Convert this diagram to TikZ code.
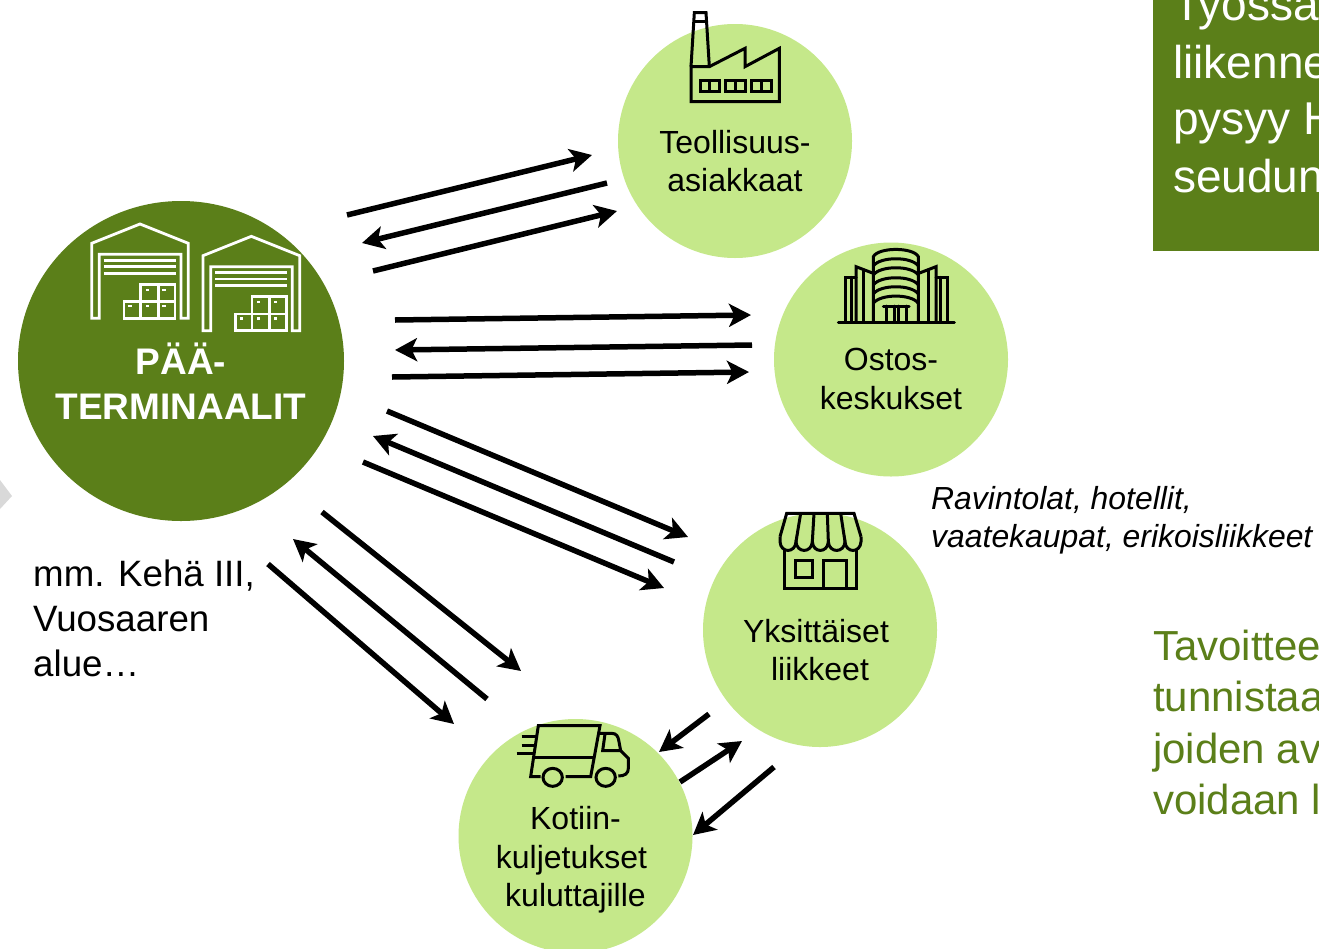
\documentclass[tikz,border=0pt]{standalone}
\usepackage{fontspec}
\setmainfont{Liberation Sans}
\usetikzlibrary{arrows.meta,shapes.geometric}
\definecolor{darkgreen}{HTML}{5B7F19}
\definecolor{lightgreen}{HTML}{C5E88A}
\definecolor{palegray}{HTML}{D9D9D9}
\newcommand{\warehouseicon}{%
    \draw[whiteicon] (275,355)--(275,130)--(420,72)--(565,130)--(565,355)--(543,355)--(543,163)--(298,163)--(298,355)--cycle;
    \foreach \yy in {181,200,220} \draw[whiteicon] (312,\yy)--(528,\yy);
    \draw[whiteicon] (372,305) rectangle (422,355);
    \draw[whiteicon] (422,305) rectangle (475,355);
    \draw[whiteicon] (475,305) rectangle (525,355);
    \draw[whiteicon] (422,253) rectangle (475,305);
    \draw[whiteicon] (475,253) rectangle (525,305);
    \foreach \xx/\yy in {385/315,437/315,487/315,437/266,487/266}
      \fill[white] (\xx,\yy) rectangle ++(10,7);
}
\tikzset{
  darkcircle/.style={ellipse,fill=darkgreen,inner sep=0pt,minimum width=326pt,minimum height=320pt},
  lightcircle/.style={circle,fill=lightgreen,inner sep=0pt,minimum size=234pt},
  flow/.style={line width=5.5pt,-{Stealth[length=22pt,width=23pt,inset=5.5pt]}},
  icon/.style={line width=3pt,line join=miter,black},
  whiteicon/.style={line width=2.8pt,white},
  label/.style={align=center,inner sep=0pt,font=\fontsize{32}{38.4}\selectfont},
  leftnote/.style={align=left,inner sep=0pt,anchor=north west,font=\fontsize{36.7}{45}\selectfont},
  italicnote/.style={align=left,inner sep=0pt,anchor=north west,font=\fontsize{31.9}{38}\selectfont\itshape},
  boxline/.style={anchor=base west,inner sep=0pt,white,font=\fontsize{46}{56}\selectfont},
  goalline/.style={anchor=base west,inner sep=0pt,text=darkgreen,font=\fontsize{42}{51}\selectfont},
}
\begin{document}
\begin{tikzpicture}[x=1pt,y=-1pt]
\clip (0,0) rectangle (1319,948);
\fill[white] (0,0) rectangle (1319,948);
% pale shape on the left edge
\fill[palegray] (0,480)--(12,496)--(0,509)--cycle;
% circles
\node[darkcircle] (term) at (181,361) {};
\node[lightcircle] (teol) at (735,141) {};
\node[lightcircle] (osto) at (891,359.5) {};
\node[lightcircle] (yksi) at (820,630) {};
\node[lightcircle] (koti) at (575.5,836) {};
% green box
\fill[darkgreen] (1153,-5) rectangle (1325,251);
\node[boxline] (b1) at (1173,20) {Työssä};
\node[boxline] (b2) at (1173,78) {liikenne};
\node[boxline] (b3) at (1173,134) {pysyy H};
\node[boxline] (b4) at (1173,192) {seudun};
% goal text
\node[goalline] (g1) at (1153,660) {Tavoittee};
\node[goalline] (g2) at (1153,711) {tunnistaa};
\node[goalline] (g3) at (1153,763) {joiden av};
\node[goalline] (g4) at (1153,814) {voidaan l};
% labels
\node[align=center,inner sep=0pt,white,font=\fontsize{37}{45}\selectfont\bfseries] (termt) at (181,381) {PÄÄ-\\TERMINAALIT};
\node[label] (teolt) at (735,161) {Teollisuus-\\asiakkaat};
\node[label] (ostot) at (891,379) {Ostos-\\keskukset};
\node[label] (yksit) at (818,650) {Yksittäiset\hspace*{4pt}\\\hspace*{4pt}liikkeet};
\node[label] (kotit) at (575.5,860) {Kotiin-\\kuljetukset\hspace*{8pt}\strut\\kuluttajille};
\node[leftnote] (mm) at (33,560) {mm. Kehä III,\\Vuosaaren\\alue…};
\node[italicnote] (rav) at (931,486) {Ravintolat, hotellit,\\vaatekaupat, erikoisliikkeet};
% arrow ends
\coordinate (a1s) at (347,215);  \coordinate (a1e) at (592,155);
\coordinate (a2s) at (607,183);  \coordinate (a2e) at (362,243);
\coordinate (a3s) at (373,271);  \coordinate (a3e) at (617,211);
\coordinate (a4s) at (395,320);  \coordinate (a4e) at (751,315);
\coordinate (a5s) at (752,345);  \coordinate (a5e) at (395,350);
\coordinate (a6s) at (392,377);  \coordinate (a6e) at (749,372);
\coordinate (a7s) at (387,411);  \coordinate (a7e) at (688,537);
\coordinate (a8s) at (674,562);  \coordinate (a8e) at (373,436);
\coordinate (a9s) at (363,462);  \coordinate (a9e) at (664,588);
\coordinate (a10s) at (322,512); \coordinate (a10e) at (521,671);
\coordinate (a11s) at (487,699); \coordinate (a11e) at (293,539);
\coordinate (a12s) at (268,564); \coordinate (a12e) at (454,724);
\coordinate (a13s) at (709,714); \coordinate (a13e) at (659,752);
\coordinate (a14s) at (680,782); \coordinate (a14e) at (742,741);
\coordinate (a15s) at (774,767); \coordinate (a15e) at (693,835);
\foreach \n in {1,...,15} \draw[flow] (a\n s) -- (a\n e);
% warehouses
\begin{scope}[shift={(0,200)},scale=1/3]
  \warehouseicon
\end{scope}
\begin{scope}[shift={(111.33,212.33)},scale=1/3]
  \warehouseicon
\end{scope}
% factory
\begin{scope}[shift={(660,0)},scale=1/3]
  \draw[icon] (93,200)--(103,38)--(138,38)--(148,200);
  \draw[icon] (100,65)--(141,65);
  \draw[icon] (93,200)--(148,200)--(255,145)--(255,200)--(358,145)--(358,305)--(93,305)--cycle;
  \foreach \xx in {120,197,275} {
    \draw[icon] (\xx,241) rectangle ++(58,34);
    \draw[icon] (\xx+29,241)--(\xx+29,275);
  }
\end{scope}
% mall
\begin{scope}[shift={(820,240)},scale=1/3,line cap=round]
  \draw[icon] (55,247)--(403,247);
  \draw[icon] (160,247)--(160,50) .. controls (175,21) and (280,21) .. (295,50)--(295,247);
  \foreach \yy in {78,105,135,162,190}
    \draw[icon] (160,\yy) .. controls (180,\yy-29) and (275,\yy-29) .. (295,\yy);
  \draw[icon] (160,100)--(108,80)--(108,247);
  \draw[icon] (130,90)--(130,247);
  \draw[icon] (108,112)--(75,112)--(75,247);
  \draw[icon] (95,112)--(95,247);
  \draw[icon] (296,100)--(348,80)--(348,247);
  \draw[icon] (326,90)--(326,247);
  \draw[icon] (348,112)--(381,112)--(381,247);
  \draw[icon] (360,112)--(360,247);
  \draw[icon] (190,198)--(267,198);
  \foreach \xx in {200,222,235,258} \draw[icon] (\xx,198)--(\xx,247);
\end{scope}
% shop
\begin{scope}[shift={(760,500)},scale=1/3]
  \draw[icon] (60,110)--(80,40)--(282,40)--(303,110);
  \draw[icon] (60,110)--(60,125) .. controls (62,160) and (106,160) .. (108,125)
     .. controls (110,160) and (155,160) .. (157,125)
     .. controls (159,160) and (203,160) .. (205,125)
     .. controls (207,160) and (253,160) .. (255,125)
     .. controls (257,160) and (301,160) .. (303,125)--(303,110);
  \draw[icon] (122,40)--(108,125);
  \draw[icon] (162,40)--(157,125);
  \draw[icon] (202,40)--(205,125);
  \draw[icon] (242,40)--(255,125);
  \draw[icon] (72,150)--(72,265)--(288,265)--(288,150);
  \draw[icon] (105,180) rectangle (158,232);
  \draw[icon] (190,265)--(190,180)--(258,180)--(258,265);
\end{scope}
% truck
\begin{scope}[shift={(500,710)},scale=1/3]
  \draw[icon] (122,200)--(92,200)--(115,47)--(300,47)--(272,200)--(197,200);
  \draw[icon] (103,142)--(280,142);
  \draw[icon] (65,78)--(113,78);
  \draw[icon] (65,105)--(108,105);
  \draw[icon] (50,130)--(103,130);
  \draw[icon] (300,70)--(335,70) .. controls (350,70) and (354,80) .. (356,90)--(362,122)--(308,122)--(315,72);
  \draw[icon] (362,122)--(385,145)--(385,175) .. controls (385,190) and (375,198) .. (355,198);
  \draw[icon] (158,202) ellipse (29 and 27);
  \draw[icon] (317,202) ellipse (29 and 27);
\end{scope}
\end{tikzpicture}
\end{document}
